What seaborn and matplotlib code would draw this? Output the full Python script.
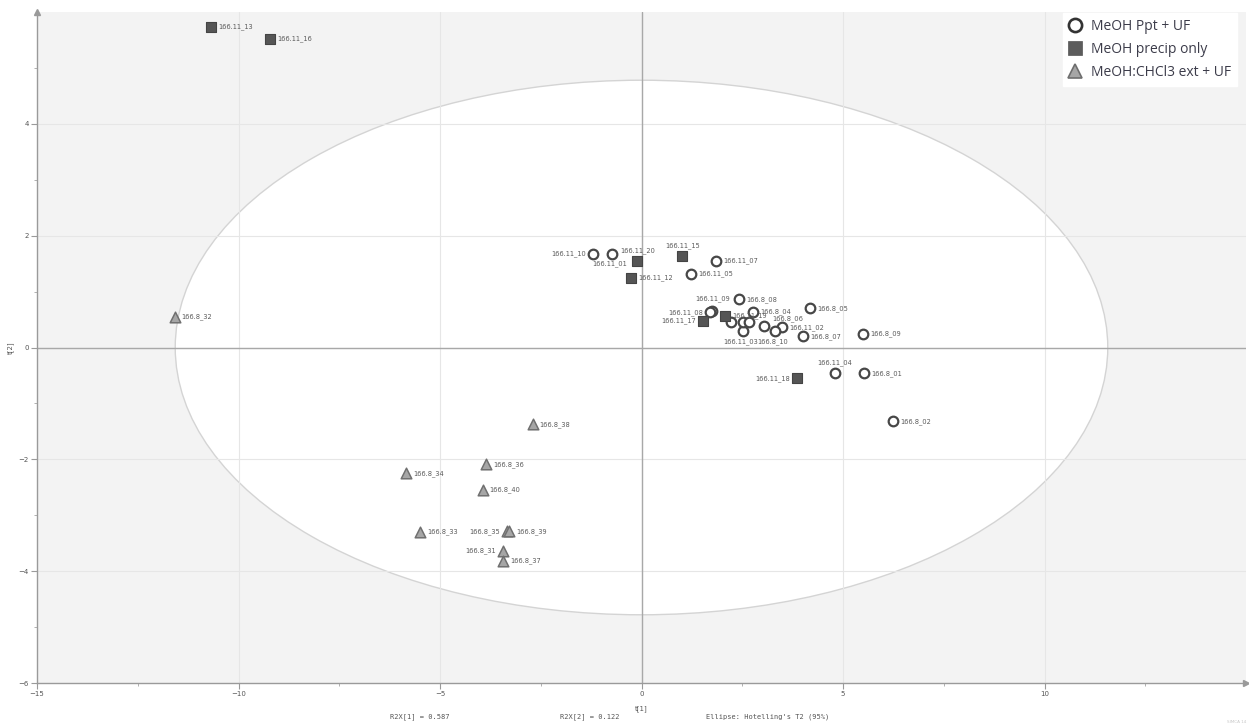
import numpy as np
import pandas as pd
import matplotlib
matplotlib.use("Agg")
import matplotlib.pyplot as plt
import seaborn as sns
from matplotlib.patches import Ellipse
from matplotlib.lines import Line2D

# ---- score data (t[1], t[2]) per sample group ----
group_names = ["MeOH Ppt + UF", "MeOH precip only", "MeOH:CHCl3 ext + UF"]

ppt_names = ["166.11_10", "166.11_01", "166.11_07", "166.11_05", "166.11_09",
             "166.11_08", "166.11_06", "166.11_03", "166.11_02", "166.11_04",
             "166.11_11", "166.8_08", "166.8_04", "166.8_05", "166.8_03",
             "166.8_06", "166.8_10", "166.8_07", "166.8_09", "166.8_01", "166.8_02"]
ppt_t1 = [-1.21, -0.72, 1.86, 1.24, 1.76, 1.70, 2.23, 2.52, 3.49, 4.80,
          2.52, 2.43, 2.77, 4.18, 2.67, 3.04, 3.32, 4.01, 5.50, 5.52, 6.24]
ppt_t2 = [1.68, 1.68, 1.55, 1.32, 0.66, 0.63, 0.45, 0.29, 0.36, -0.45,
          0.46, 0.86, 0.64, 0.70, 0.45, 0.39, 0.29, 0.20, 0.25, -0.46, -1.32]

precip_names = ["166.11_13", "166.11_16", "166.11_20", "166.11_12",
                "166.11_15", "166.11_17", "166.11_19", "166.11_18"]
precip_t1 = [-10.67, -9.21, -0.10, -0.25, 1.01, 1.53, 2.08, 3.86]
precip_t2 = [5.73, 5.52, 1.55, 1.25, 1.63, 0.48, 0.57, -0.55]

chcl3_names = ["166.8_32", "166.8_38", "166.8_36", "166.8_34", "166.8_40",
               "166.8_33", "166.8_35", "166.8_39", "166.8_31", "166.8_37"]
chcl3_t1 = [-11.58, -2.70, -3.86, -5.84, -3.94, -5.50, -3.33, -3.29, -3.44, -3.44]
chcl3_t2 = [0.55, -1.375, -2.09, -2.25, -2.55, -3.30, -3.29, -3.29, -3.64, -3.82]

r2x = [0.587, 0.122]
ellipse_t1_radius = 11.57
ellipse_t2_radius = 4.78

x_ticks = [-15, -10, -5, 0, 5, 10]
y_ticks = [-6, -4, -2, 0, 2, 4]

# label placement around each marker (default: right)
label_side = {
    "166.11_10": "left", "166.11_01": "below", "166.11_20": "above",
    "166.11_15": "above", "166.11_09": "aboveleft", "166.11_08": "left",
    "166.11_17": "left", "166.11_19": "right", "166.11_03": "below",
    "166.8_10": "below", "166.11_04": "above", "166.11_18": "left",
    "166.8_35": "left", "166.8_31": "left", "166.8_04": "right",
    "166.8_06": "aboveright",
}
hidden_labels = {"166.11_06", "166.11_11", "166.8_03"}

df = pd.concat([
    pd.DataFrame({"name": ppt_names, "t1": ppt_t1, "t2": ppt_t2, "group": group_names[0]}),
    pd.DataFrame({"name": precip_names, "t1": precip_t1, "t2": precip_t2, "group": group_names[1]}),
    pd.DataFrame({"name": chcl3_names, "t1": chcl3_t1, "t2": chcl3_t2, "group": group_names[2]}),
], ignore_index=True)

sns.set_theme(style="white")
plt.rcParams["font.family"] = ["DejaVu Sans"]

fig = plt.figure(figsize=(12.49, 7.27), dpi=100)
ax = fig.add_axes([37 / 1249, 44 / 727, 1209 / 1249, 671 / 727])
ax.set_facecolor("#f3f3f3")
ax.set_xlim(-15, 15)
ax.set_ylim(-6, 6)

# Hotelling's T2 ellipse
ax.add_patch(Ellipse((0, 0), 2 * ellipse_t1_radius, 2 * ellipse_t2_radius,
                     facecolor="white", edgecolor="#d4d4d4", lw=1.0, zorder=0.5))

# grid and zero lines
for xv in x_ticks[1:]:
    ax.axvline(xv, color="#e6e6e6", lw=0.8, zorder=0.8)
for yv in y_ticks[1:]:
    ax.axhline(yv, color="#e6e6e6", lw=0.8, zorder=0.8)
ax.axhline(0, color="#a8a8a8", lw=1.0, zorder=0.9)
ax.axvline(0, color="#a8a8a8", lw=1.0, zorder=0.9)

styles = {
    group_names[0]: dict(marker="o", s=48, facecolor="white", edgecolor="#474747", linewidth=1.6),
    group_names[1]: dict(marker="s", s=55, facecolor="#555555", edgecolor="#444444", linewidth=0.8),
    group_names[2]: dict(marker="^", s=58, facecolor="#a6a6a6", edgecolor="#707070", linewidth=1.1),
}
for g in group_names:
    sub = df[df["group"] == g]
    sns.scatterplot(data=sub, x="t1", y="t2", ax=ax, legend=False, zorder=3, **styles[g])

# point labels
offsets = {
    "right": ((5, 0), "left", "center"),
    "left": ((-5, 0), "right", "center"),
    "above": ((0, 5), "center", "bottom"),
    "aboveleft": ((0, 6), "center", "bottom"),
    "below": ((-2, -5), "center", "top"),
    "aboveright": ((6, 3), "left", "bottom"),
}
for _, r in df.iterrows():
    if r["name"] in hidden_labels:
        continue
    (dx, dy), ha, va = offsets[label_side.get(r["name"], "right")]
    ax.annotate(r["name"], (r["t1"], r["t2"]), xytext=(dx, dy), textcoords="offset points",
                ha=ha, va=va, fontsize=4.8, color="#5a5a5a", zorder=4)

# axes styling
for s in ["top", "right"]:
    ax.spines[s].set_visible(False)
for s in ["left", "bottom"]:
    ax.spines[s].set_color("#9a9a9a")
    ax.spines[s].set_linewidth(1.0)
ax.set_xticks(x_ticks)
ax.set_yticks(y_ticks)
ax.set_xticks(np.arange(-12.5, 15, 5), minor=True)
ax.set_yticks(np.arange(-5, 6, 2), minor=True)
ax.tick_params(axis="both", which="major", direction="out", length=4, width=0.8,
               color="#9a9a9a", labelsize=5, labelcolor="#555555", pad=2,
               bottom=True, left=True)
ax.tick_params(axis="both", which="minor", direction="out", length=2.5, width=0.7,
               color="#b0b0b0", bottom=True, left=True)
ax.set_xlabel("t[1]", fontsize=5, color="#555555", labelpad=6)
ax.set_ylabel("t[2]", fontsize=5, color="#555555", labelpad=3)

# axis arrows
ax.plot(1, 0, ">", color="#9a9a9a", ms=4, transform=ax.transAxes, clip_on=False, zorder=5)
ax.plot(0, 1, "^", color="#9a9a9a", ms=4, transform=ax.transAxes, clip_on=False, zorder=5)

# footer
foot = dict(fontsize=5, color="#555555", family="DejaVu Sans Mono", va="center")
fig.text(420 / 1249, 1 - 717 / 727, f"R2X[1] = {r2x[0]:.3f}", ha="center", **foot)
fig.text(590 / 1249, 1 - 717 / 727, f"R2X[2] = {r2x[1]:.3f}", ha="center", **foot)
fig.text(706 / 1249, 1 - 717 / 727, "Ellipse: Hotelling's T2 (95%)", ha="left", **foot)
fig.text(1246 / 1249, 1 - 722 / 727, "SIMCA 14", ha="right", va="center",
         fontsize=3, color="#c8c8c8")

# legend
handles = [
    Line2D([], [], marker="o", ls="none", ms=9.5, mfc="white", mec="#333333", mew=1.9),
    Line2D([], [], marker="s", ls="none", ms=10, mfc="#5c5c5c", mec="#555555", mew=0.5),
    Line2D([], [], marker="^", ls="none", ms=10.5, mfc="#a6a6a6", mec="#6e6e6e", mew=1.2),
]
leg = fig.legend(handles, group_names, loc="upper left",
                 bbox_to_anchor=(1063 / 1249, 1 - 13 / 727),
                 frameon=True, handletextpad=0.75, borderpad=0.45,
                 labelspacing=0.55, handlelength=0.8, borderaxespad=0.0,
                 prop={"family": ["Open Sans", "DejaVu Sans"], "size": 10})
leg.get_frame().set_facecolor("white")
leg.get_frame().set_edgecolor("white")
leg.get_frame().set_alpha(1.0)
leg.get_frame().set_boxstyle("square", pad=0.0)
for t in leg.get_texts():
    t.set_color("#3c3c4a")

fig.savefig("out.png", dpi=100, facecolor="white")
